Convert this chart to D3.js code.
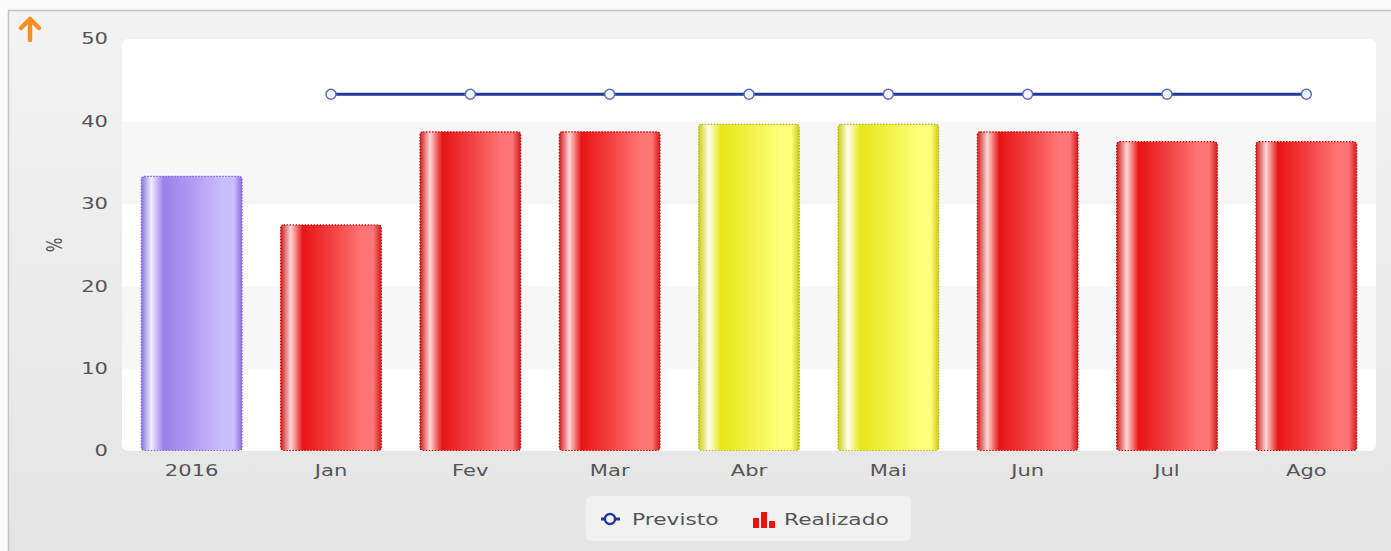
<!DOCTYPE html>
<html>
<head>
<meta charset="utf-8">
<script src="https://d3js.org/d3.v7.min.js"></script>
<style>
  html, body { margin: 0; padding: 0; background: #fafafa; }
  svg { display: block; }
  text { font-family: "DejaVu Sans", Verdana, sans-serif; fill: #555; }
</style>
</head>
<body>
<svg id="chart" width="1391" height="551"></svg>
<script>
const categories = ['2016', 'Jan', 'Fev', 'Mar', 'Abr', 'Mai', 'Jun', 'Jul', 'Ago'];
const realizado = [33.4, 27.5, 38.8, 38.8, 39.7, 39.7, 38.8, 37.6, 37.6];
const previsto = [null, 43.3, 43.3, 43.3, 43.3, 43.3, 43.3, 43.3, 43.3];
const barColor = ['purple', 'red', 'red', 'red', 'yellow', 'yellow', 'red', 'red', 'red'];
const yTicks = [0, 10, 20, 30, 40, 50];

const W = 1391, H = 551;
const plot = { left: 122, right: 1376, top: 39, bottom: 451 };
const SX = 1.36; // the text in the original looks stretched sideways

const svg = d3.select('#chart');
const defs = svg.append('defs');

// background gradient
const bg = defs.append('linearGradient').attr('id', 'bg').attr('x1', 0).attr('y1', 0).attr('x2', 0).attr('y2', 1);
bg.append('stop').attr('offset', '0%').attr('stop-color', '#f3f3f3');
bg.append('stop').attr('offset', '100%').attr('stop-color', '#e4e4e4');

// bar gradients
const palettes = {
  red:    { edge: '#d01c1c', hi: '#ffd6d6', base: '#e81414', light: '#ff7474', stroke: '#c01010' },
  purple: { edge: '#8a72d8', hi: '#f2eeff', base: '#9a80e8', light: '#cbbcff', stroke: '#7a66cc' },
  yellow: { edge: '#cccc10', hi: '#fffff2', base: '#e6e61a', light: '#ffff7a', stroke: '#b8b820' }
};
Object.entries(palettes).forEach(([k, p]) => {
  const g = defs.append('linearGradient').attr('id', 'g-' + k).attr('x1', 0).attr('y1', 0).attr('x2', 1).attr('y2', 0);
  [[0, p.edge], [0.1, p.hi], [0.22, p.base], [0.5, d3.interpolateRgb(p.base, p.light)(0.45)],
   [0.8, p.light], [0.92, p.light], [1, p.edge]].forEach(([o, c]) => {
    g.append('stop').attr('offset', o * 100 + '%').attr('stop-color', c);
  });
});

svg.append('rect').attr('x', 0).attr('y', 0).attr('width', W).attr('height', H).attr('fill', '#fafafa');
svg.append('rect').attr('x', 8.5).attr('y', 10.5).attr('width', W + 10).attr('height', H)
  .attr('fill', 'url(#bg)').attr('stroke', '#c4c4c4').attr('stroke-width', 1.5);

// orange arrow
const arrow = svg.append('g').attr('transform', 'translate(30,29)');
arrow.append('path').attr('d', 'M-9,-1 L0,-10 L9,-1 M0,-10 L0,11')
  .attr('fill', 'none').attr('stroke', '#f7901e').attr('stroke-width', 4.5).attr('stroke-linecap', 'round').attr('stroke-linejoin', 'round');

const x = d3.scaleBand().domain(categories).range([plot.left, plot.right]).paddingInner(0.27).paddingOuter(0.135);
const y = d3.scaleLinear().domain([0, 50]).range([plot.bottom, plot.top]);

// plot area with bands
const clip = defs.append('clipPath').attr('id', 'plotclip');
clip.append('rect').attr('x', plot.left).attr('y', plot.top).attr('width', plot.right - plot.left)
  .attr('height', plot.bottom - plot.top).attr('rx', 6);
const area = svg.append('g').attr('clip-path', 'url(#plotclip)');
area.append('rect').attr('x', plot.left).attr('y', plot.top).attr('width', plot.right - plot.left)
  .attr('height', plot.bottom - plot.top).attr('fill', '#ffffff');
area.selectAll('rect.band').data(d3.pairs(yTicks).filter((d, i) => i % 2 === 1)).join('rect')
  .attr('class', 'band')
  .attr('x', plot.left).attr('width', plot.right - plot.left)
  .attr('y', d => y(d[1])).attr('height', d => y(d[0]) - y(d[1]))
  .attr('fill', '#f7f7f7');

// y axis
const yAxis = d3.axisLeft(y).tickValues(yTicks).tickSize(0).tickPadding(14);
const yg = svg.append('g').attr('transform', `translate(${plot.left},0)`).call(yAxis);
yg.select('.domain').remove();
yg.selectAll('text').attr('font-size', 15.5).style('fill', '#555')
  .attr('x', -14 / SX).attr('transform', `scale(${SX},1)`);

svg.append('text').attr('transform', `translate(62,${(plot.top + plot.bottom) / 2}) rotate(-90) scale(1,${SX})`)
  .attr('text-anchor', 'middle').attr('font-size', 15.5).text('%');

// x axis
const xAxis = d3.axisBottom(x).tickSize(0).tickPadding(14);
const xg = svg.append('g').attr('transform', `translate(0,${plot.bottom})`).call(xAxis);
xg.select('.domain').remove();
xg.selectAll('text').attr('font-size', 15.5).style('fill', '#555').attr('transform', `scale(${SX},1)`);

// bars
svg.append('g').selectAll('rect').data(realizado).join('rect')
  .attr('x', (d, i) => x(categories[i]) + 0.5)
  .attr('y', d => y(d) + 0.5)
  .attr('width', x.bandwidth() - 1)
  .attr('height', d => y(0) - y(d) - 1)
  .attr('rx', 3)
  .attr('fill', (d, i) => `url(#g-${barColor[i]})`)
  .attr('stroke', (d, i) => palettes[barColor[i]].stroke)
  .attr('stroke-width', 1.2)
  .attr('stroke-dasharray', '1.5,1.5');

// line
const lineData = previsto.map((v, i) => ({ c: categories[i], v })).filter(d => d.v != null);
const line = d3.line().x(d => x(d.c) + x.bandwidth() / 2).y(d => y(d.v));
svg.append('path').datum(lineData).attr('d', line)
  .attr('fill', 'none').attr('stroke', '#22399a').attr('stroke-width', 3);
svg.append('g').selectAll('circle').data(lineData).join('circle')
  .attr('cx', d => x(d.c) + x.bandwidth() / 2).attr('cy', d => y(d.v)).attr('r', 5)
  .attr('fill', '#f4f6ff').attr('stroke', '#5a6cb8').attr('stroke-width', 1.5);

// legend
const lg = svg.append('g');
lg.append('rect').attr('x', 586).attr('y', 496).attr('width', 325).attr('height', 45).attr('rx', 5)
  .attr('fill', '#f1f1f1');
lg.append('line').attr('x1', 601).attr('x2', 620).attr('y1', 519).attr('y2', 519)
  .attr('stroke', '#22399a').attr('stroke-width', 3);
lg.append('circle').attr('cx', 610).attr('cy', 519).attr('r', 5)
  .attr('fill', '#fff').attr('stroke', '#22399a').attr('stroke-width', 2.5);
lg.append('text').attr('transform', `translate(632,525) scale(${SX},1)`).attr('font-size', 16).text('Previsto');
const icon = [[753, 10], [761, 16], [769, 7]];
lg.selectAll('rect.ic').data(icon).join('rect').attr('class', 'ic')
  .attr('x', d => d[0]).attr('y', d => 528 - d[1]).attr('width', 6).attr('height', d => d[1])
  .attr('fill', '#f01010');
lg.append('text').attr('transform', `translate(784,525) scale(${SX},1)`).attr('font-size', 16).text('Realizado');
</script>
</body>
</html>
